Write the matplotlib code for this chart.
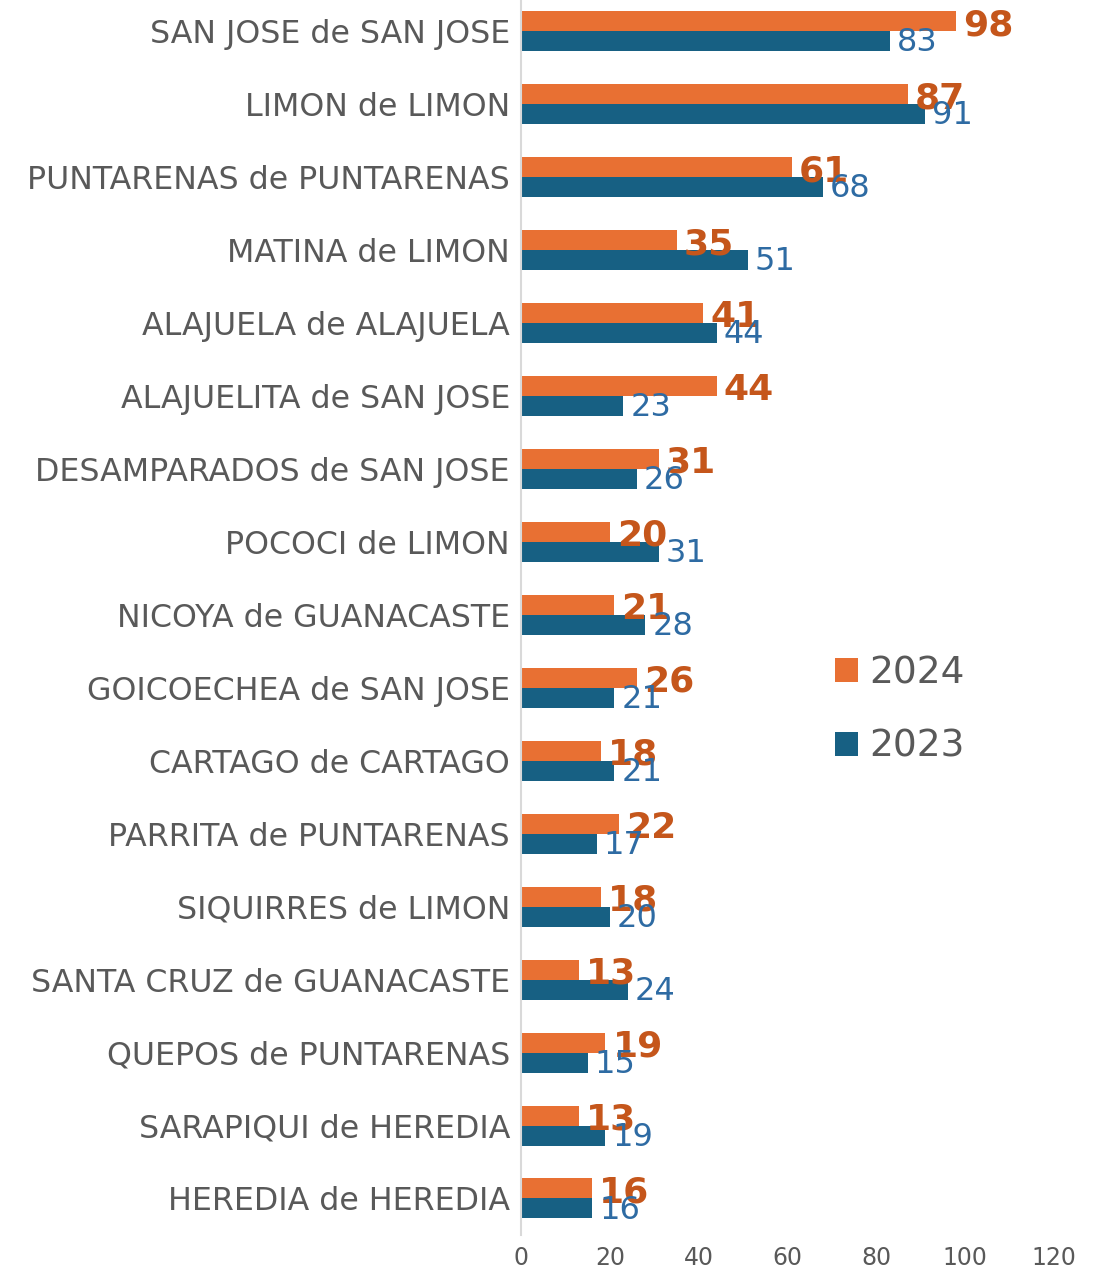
import matplotlib.pyplot as plt
import numpy as np

categorias = ['SAN JOSE de SAN JOSE', 'LIMON de LIMON', 'PUNTARENAS de PUNTARENAS',
              'MATINA de LIMON', 'ALAJUELA de ALAJUELA', 'ALAJUELITA de SAN JOSE',
              'DESAMPARADOS de SAN JOSE', 'POCOCI de LIMON', 'NICOYA de GUANACASTE',
              'GOICOECHEA de SAN JOSE', 'CARTAGO de CARTAGO', 'PARRITA de PUNTARENAS',
              'SIQUIRRES de LIMON', 'SANTA CRUZ de GUANACASTE', 'QUEPOS de PUNTARENAS',
              'SARAPIQUI de HEREDIA', 'HEREDIA de HEREDIA']
valores_2024 = [98, 87, 61, 35, 41, 44, 31, 20, 21, 26, 18, 22, 18, 13, 19, 13, 16]
valores_2023 = [83, 91, 68, 51, 44, 23, 26, 31, 28, 21, 21, 17, 20, 24, 15, 19, 16]
ticks_x = [0, 20, 40, 60, 80, 100, 120]

naranja = '#E87033'
azul = '#176083'
gris = '#595959'

fig = plt.figure(figsize=(11.07, 12.69), dpi=100)
ax = fig.add_axes([0.4707, 0.0268, 0.4815, 0.9732])

y = np.arange(len(categorias))
h = 0.274
ax.barh(y - h / 2, valores_2024, height=h, color=naranja, label='2024')
ax.barh(y + h / 2, valores_2023, height=h, color=azul, label='2023')

# etiquetas de valores
for yi, v in zip(y, valores_2024):
    ax.text(v + 1.6, yi - h / 2 + 0.06, str(v), color='#C5561B', fontsize=26,
            fontweight='bold', va='center', ha='left')
for yi, v in zip(y, valores_2023):
    ax.text(v + 1.6, yi + h / 2 + 0.03, str(v), color='#2E6BA3', fontsize=23,
            va='center', ha='left')

ax.set_yticks(y)
ax.set_yticklabels(categorias, fontsize=22.8, color=gris)
ax.set_xticks(ticks_x)
ax.set_xticklabels([str(t) for t in ticks_x], fontsize=17, color=gris)
ax.set_xlim(0, 120)
ax.set_ylim(16.5, -0.42)
ax.tick_params(length=0, pad=8)
for s in ['top', 'right', 'bottom']:
    ax.spines[s].set_visible(False)
ax.spines['left'].set_color('#D9D9D9')
ax.spines['left'].set_linewidth(1.5)

ax.legend(loc='center left', bbox_to_anchor=(0.589, 0.425), frameon=False,
          fontsize=27, labelcolor=gris, handlelength=0.6, handleheight=0.6,
          handletextpad=0.3, labelspacing=1.0, borderpad=0, borderaxespad=0)

plt.savefig('out.png', dpi=100)
